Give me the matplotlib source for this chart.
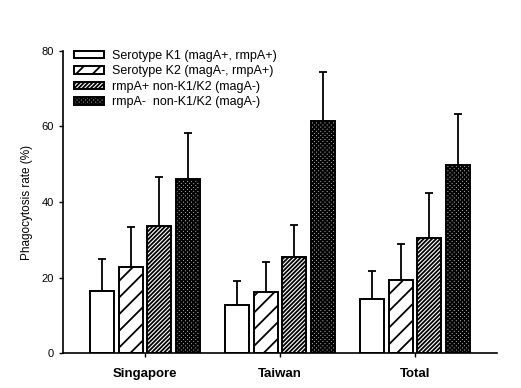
import matplotlib.pyplot as plt
import numpy as np

plt.rcParams['font.family'] = ['Liberation Sans', 'DejaVu Sans']
plt.rcParams['hatch.linewidth'] = 1.3

groups = ['Singapore', 'Taiwan', 'Total']
series = ['Serotype K1 (magA+, rmpA+)',
          'Serotype K2 (magA-, rmpA+)',
          'rmpA+ non-K1/K2 (magA-)',
          'rmpA-  non-K1/K2 (magA-)']
# mean phagocytosis rate (%) per series, in group order
k1 = [16.5, 12.8, 14.3]
k2 = [22.9, 16.2, 19.3]
rmpa_pos = [33.7, 25.5, 30.5]
rmpa_neg = [46.1, 61.5, 49.8]
# upper error (SD)
k1_err = [8.5, 6.2, 7.5]
k2_err = [10.5, 7.9, 9.7]
rmpa_pos_err = [13.0, 8.3, 11.9]
rmpa_neg_err = [12.1, 12.8, 13.4]

means = [k1, k2, rmpa_pos, rmpa_neg]
errs = [k1_err, k2_err, rmpa_pos_err, rmpa_neg_err]
hatches = ['', '//', '////////', 'xxxxxxxx']
faces = ['white', 'white', 'white', '#bbbbbb']

fig = plt.figure(figsize=(5.21, 3.88), dpi=100, facecolor='white')
ax = fig.add_axes([0.121, 0.090, 0.833, 0.779])

x = np.arange(len(groups))
w = 0.178
step = 0.2125
for i in range(4):
    pos = x + (i - 1.5) * step
    ax.bar(pos, means[i], w, color=faces[i], edgecolor='black',
           linewidth=1.4, hatch=hatches[i], label=series[i], zorder=2)
    ax.errorbar(pos, means[i], yerr=[np.zeros(3), errs[i]], fmt='none',
                ecolor='black', elinewidth=1.3, capsize=3, capthick=1.3,
                zorder=1)

ax.set_xlim(-0.607, 2.607)
ax.set_ylim(0, 80)
ax.set_yticks([0, 20, 40, 60, 80])
ax.set_xticks(x)
ax.set_xticklabels(groups, fontsize=9.5, fontweight='bold')
ax.tick_params(axis='y', labelsize=8, length=3, width=1)
ax.tick_params(axis='x', length=3, width=1, pad=8)
ax.set_ylabel('Phagocytosis rate (%)', fontsize=8.5, labelpad=6)
for s in ['top', 'right']:
    ax.spines[s].set_visible(False)
for s in ['left', 'bottom']:
    ax.spines[s].set_linewidth(1.2)

ax.legend(loc='upper left', bbox_to_anchor=(0.0, 1.04), frameon=False,
          fontsize=9, handlelength=2.4, handleheight=0.5,
          handletextpad=0.6, labelspacing=0.28)

fig.savefig('out.png', dpi=100)
